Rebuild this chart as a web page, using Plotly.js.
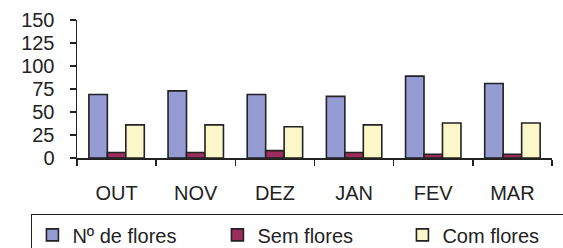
<!DOCTYPE html>
<html>
<head>
<meta charset="utf-8">
<script src="https://cdn.plot.ly/plotly-3.0.1.min.js"></script>
<style>html,body{margin:0;padding:0;background:#fff;}#chart{width:563px;height:248px;}</style>
</head>
<body>
<div id="chart"></div>
<script>
var months = ["OUT", "NOV", "DEZ", "JAN", "FEV", "MAR"];
var seriesNames = ["N\u00ba de flores", "Sem flores", "Com flores"];
var nFlores = [69, 73, 69, 67, 89, 81];
var semFlores = [6, 6, 8, 6, 4, 4];
var comFlores = [36, 36, 34, 36, 38, 38];
var yTicks = [0, 25, 50, 75, 100, 125, 150];

var colors = ["#959cd3", "#9a2d5c", "#fbf7c8"];
var values = [nFlores, semFlores, comFlores];
var lineCol = "#222222";

var traces = values.map(function (v, i) {
  return {
    type: "bar",
    x: months,
    y: v,
    name: seriesNames[i],
    marker: {color: colors[i], line: {color: lineCol, width: 1.6}},
    hoverinfo: "skip"
  };
});

var fontFam = "Liberation Sans, Arial, sans-serif";
var layout = {
  width: 563,
  height: 248,
  margin: {l: 77, r: 11, t: 20, b: 90, autoexpand: false},
  paper_bgcolor: "#ffffff",
  plot_bgcolor: "#ffffff",
  barmode: "group",
  bargap: 0.3,
  bargroupgap: 0,
  font: {family: fontFam, size: 19, color: "#222222"},
  showlegend: true,
  legend: {
    orientation: "h",
    x: -0.097, xanchor: "left",
    y: -0.405, yanchor: "top",
    bordercolor: lineCol,
    borderwidth: 1.5,
    bgcolor: "#ffffff",
    font: {family: fontFam, size: 20, color: "#222222"},
    entrywidth: 140,
    itemwidth: 30,
    traceorder: "normal"
  },
  xaxis: {
    type: "category",
    showline: true,
    linecolor: lineCol,
    linewidth: 1.5,
    ticks: "outside",
    tickson: "boundaries",
    ticklen: 6,
    tickwidth: 1.5,
    tickcolor: lineCol,
    showgrid: false,
    zeroline: false,
    ticklabelstandoff: 16,
    tickfont: {family: fontFam, size: 20, color: "#222222"},
    fixedrange: true
  },
  yaxis: {
    range: [0, 150],
    tickvals: yTicks,
    ticktext: yTicks.map(String),
    showline: true,
    linecolor: lineCol,
    linewidth: 1.5,
    ticks: "outside",
    ticklen: 6,
    tickwidth: 1.5,
    tickcolor: lineCol,
    showgrid: false,
    zeroline: false,
    ticklabelstandoff: 11,
    tickfont: {family: fontFam, size: 20, color: "#222222"},
    fixedrange: true
  }
};

Plotly.newPlot("chart", traces, layout, {displayModeBar: false, staticPlot: true});
</script>
</body>
</html>
